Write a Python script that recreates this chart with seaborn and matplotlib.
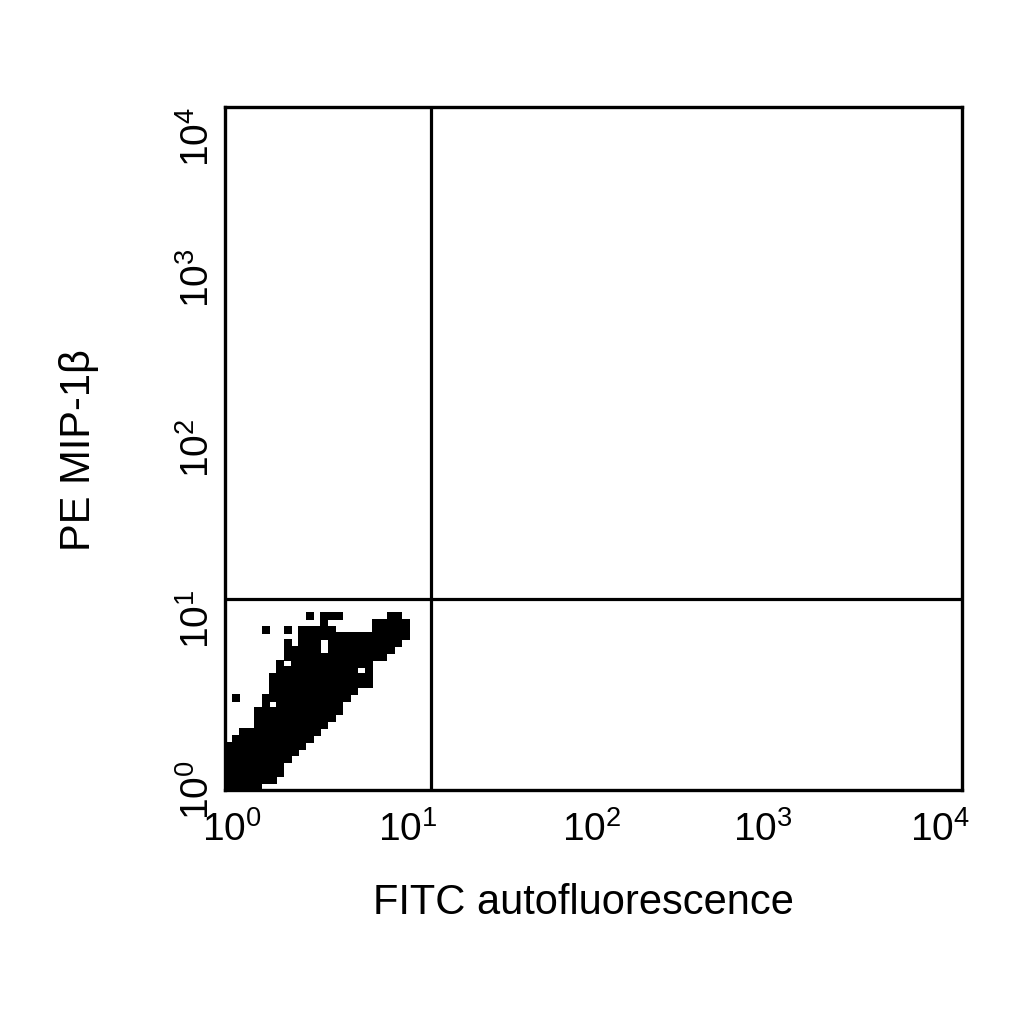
import numpy as np
import pandas as pd
import matplotlib
matplotlib.use("Agg")
import matplotlib.pyplot as plt
import matplotlib.transforms as mtransforms
import seaborn as sns

# dot-plot occupancy, in log10 decades (bin = 0.04 decade)
# each row: PE level, FITC span start, FITC span end
row_pe = [0.02, 0.06, 0.10, 0.14, 0.18, 0.22, 0.26, 0.30, 0.34, 0.38,
          0.42, 0.46, 0.50, 0.54, 0.54, 0.58, 0.62, 0.66, 0.70, 0.74,
          0.78, 0.82, 0.86, 0.86, 0.90, 0.94, 0.94, 0.94, 0.94, 0.98,
          0.98, 1.02, 1.02, 1.02]
row_fitc_from = [0.02, 0.02, 0.02, 0.02, 0.02, 0.02, 0.02, 0.06, 0.10, 0.18,
                 0.18, 0.18, 0.22, 0.06, 0.22, 0.26, 0.26, 0.26, 0.30, 0.30,
                 0.34, 0.34, 0.34, 0.42, 0.42, 0.22, 0.34, 0.42, 0.82, 0.54,
                 0.82, 0.46, 0.54, 0.90]
row_fitc_to = [0.18, 0.26, 0.30, 0.30, 0.34, 0.38, 0.42, 0.46, 0.50, 0.54,
               0.58, 0.62, 0.62, 0.06, 0.66, 0.70, 0.78, 0.78, 0.78, 0.78,
               0.86, 0.90, 0.34, 0.94, 0.98, 0.22, 0.34, 0.58, 0.98, 0.54,
               0.98, 0.46, 0.62, 0.94]
# empty cells inside the cloud
hole_fitc = [0.26, 0.74, 0.34, 0.54, 0.54]
hole_pe = [0.50, 0.70, 0.74, 0.82, 0.86]

gate = 13.2  # quadrant marker, both axes
ticks = [1, 10, 100, 1000, 10000]
tick_labels = [r"$10^{0}$", r"$10^{1}$", r"$10^{2}$", r"$10^{3}$", r"$10^{4}$"]

# expand spans into events at bin centres
xs, ys = [], []
holes = set(zip(np.round(hole_fitc, 2), np.round(hole_pe, 2)))
for pe, a, b in zip(row_pe, row_fitc_from, row_fitc_to):
    for fx in np.arange(a, b + 0.001, 0.04):
        if (round(fx, 2), round(pe, 2)) in holes:
            continue
        xs.append(10 ** fx)
        ys.append(10 ** pe)
events = pd.DataFrame({"FITC": xs, "PE": ys})

sns.set_style("white")
plt.rcParams["font.family"] = ["Liberation Sans", "DejaVu Sans"]
plt.rcParams["mathtext.fontset"] = "custom"
plt.rcParams["mathtext.rm"] = "Liberation Sans"
plt.rcParams["mathtext.it"] = "Liberation Sans"
plt.rcParams["text.color"] = "black"
plt.rcParams["axes.labelcolor"] = "black"
plt.rcParams["xtick.color"] = "black"
plt.rcParams["ytick.color"] = "black"

fig = plt.figure(figsize=(10.24, 10.24), dpi=100)
ax = fig.add_axes([0.2197, 0.2285, 0.7198, 0.667])
ax.set_xscale("log")
ax.set_yscale("log")

sns.scatterplot(data=events, x="FITC", y="PE", marker="s", s=40,
                color="black", linewidth=0, ax=ax, clip_on=True)

ax.axvline(gate, color="black", lw=2.3)
ax.axhline(gate, color="black", lw=2.3)

ax.set_xlim(1, 10000)
ax.set_ylim(1, 10000)
ax.set_xticks(ticks)
ax.set_xticklabels(tick_labels, fontsize=28)
ax.set_yticks(ticks)
ax.set_yticklabels(tick_labels, fontsize=28, rotation=90, va="center")
ax.minorticks_off()
ax.tick_params(axis="x", length=0, pad=15)
ax.tick_params(axis="y", length=0, pad=6)

# nudge tick labels the way the original figure sits them
x_shift = [7, -1, -2, -15, -22]
for lab, dx in zip(ax.get_xticklabels(), x_shift):
    lab.set_transform(lab.get_transform() +
                      mtransforms.ScaledTranslation(dx / 100, 0, fig.dpi_scale_trans))
ax.get_yticklabels()[-1].set_va("top")

for s in ax.spines.values():
    s.set_linewidth(2.4)
    s.set_color("black")
    s.set_zorder(5)

ax.set_xlabel("FITC autofluorescence", fontsize=30, va="center")
ax.xaxis.set_label_coords(0.486, -0.165)
ax.set_ylabel("PE MIP-1β", fontsize=30, va="center", ha="center")
ax.yaxis.set_label_coords(-0.198, 0.498)

fig.savefig("out.png", dpi=100, facecolor="white")
